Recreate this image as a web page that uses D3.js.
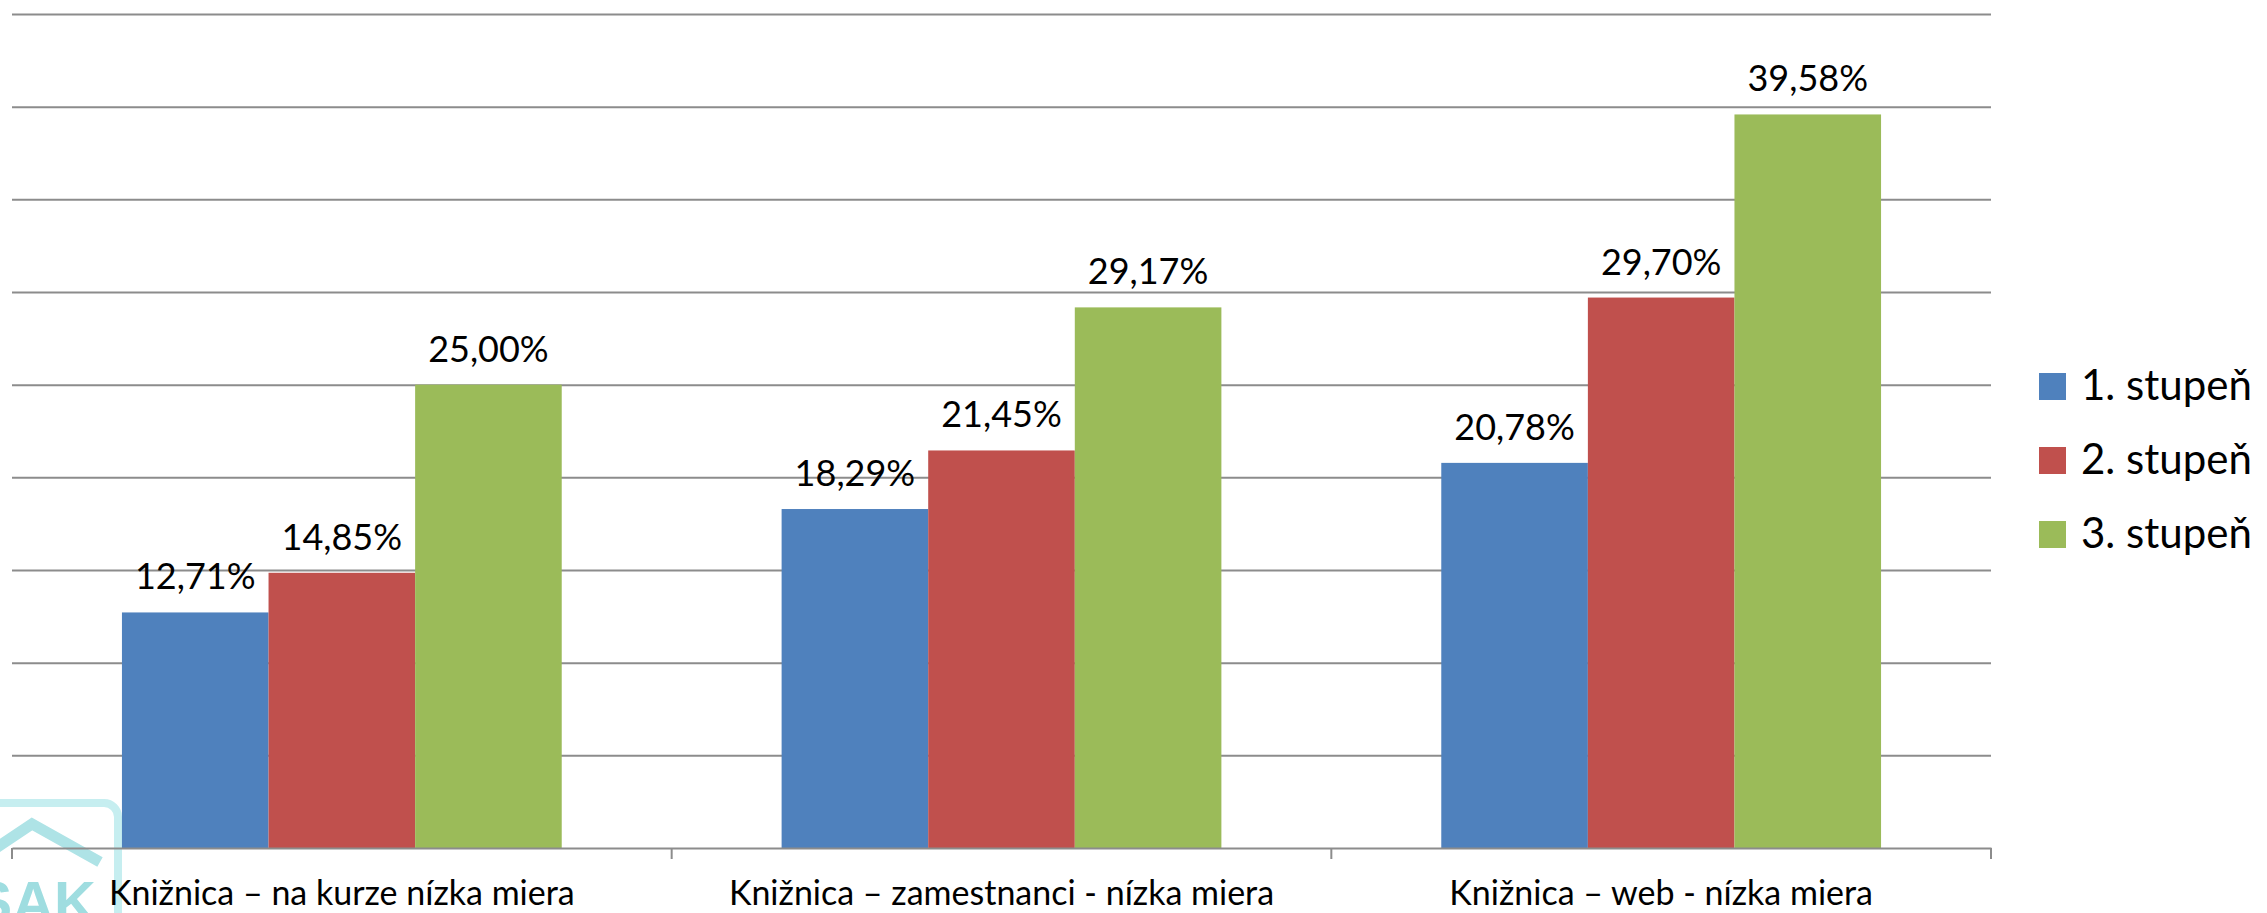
<!DOCTYPE html>
<html>
  <head>
    <meta charset="UTF-8">
    <style>
      body {
        margin: 0;
        background: #fff;
        font-family: Lato, "Open Sans", sans-serif;
      }

      .grid line {
        stroke: #8c8c8c;
        stroke-width: 2;
      }

      .grid .domain {
        opacity: 0;
      }

      .x-axis .domain,
      .x-axis .boundary {
        stroke: #8c8c8c;
        stroke-width: 2;
      }

      .x-axis .tick line {
        opacity: 0;
      }

      .x-axis text {
        font-family: Lato, sans-serif;
        font-size: 34px;
        fill: #000;
      }

      .value-label {
        font-size: 36px;
        fill: #000;
      }

      .legend text {
        font-size: 42px;
        fill: #000;
      }
    </style>
    <script src="https://d3js.org/d3.v7.min.js"></script>
  </head>

  <body>
    <svg id="chart"></svg>

    <script type="text/javascript">
      const categories = [
        'Knižnica – na kurze nízka miera',
        'Knižnica – zamestnanci - nízka miera',
        'Knižnica – web - nízka miera'
      ]
      const series = ['1. stupeň', '2. stupeň', '3. stupeň']
      const stupen1 = [12.71, 18.29, 20.78]
      const stupen2 = [14.85, 21.45, 29.70]
      const stupen3 = [25.00, 29.17, 39.58]
      const yTicks = [5, 10, 15, 20, 25, 30, 35, 40, 45]
      const colors = ['#4f81bd', '#c0504d', '#9bbb59']

      const width = 2267
      const height = 913
      const margin = { top: 14, right: 276, bottom: 65, left: 12 }
      const bodyWidth = width - margin.left - margin.right
      const bodyHeight = height - margin.top - margin.bottom

      const svg = d3.select('#chart')
        .attr('width', width)
        .attr('height', height)

      const skLocale = d3.formatLocale({ decimal: ',', thousands: ' ', grouping: [3], currency: ['', ' €'] })
      const fmt = v => skLocale.format('.2f')(v) + '%'

      const rows = categories.map((c, i) => ({
        category: c,
        values: [stupen1[i], stupen2[i], stupen3[i]].map((v, j) => ({ key: series[j], value: v }))
      }))

      const x0 = d3.scaleBand()
        .domain(categories)
        .range([0, bodyWidth])

      const x1 = d3.scaleBand()
        .domain(series)
        .range([0, x0.bandwidth()])
        .paddingOuter(0.75)

      const y = d3.scaleLinear()
        .domain([0, 45])
        .range([bodyHeight, 0])

      const color = d3.scaleOrdinal()
        .domain(series)
        .range(colors)

      // watermark logo in the lower left corner
      const logo = svg.append('g').attr('class', 'logo')
      logo.append('rect')
        .attr('x', -40).attr('y', 803)
        .attr('width', 158).attr('height', 180)
        .attr('rx', 14)
        .attr('fill', 'none')
        .attr('stroke', '#c6eef0')
        .attr('stroke-width', 8)
      logo.append('path')
        .attr('d', 'M-40,872 L32,824 L100,862')
        .attr('fill', 'none')
        .attr('stroke', '#aee3e6')
        .attr('stroke-width', 11)
      logo.append('text')
        .attr('x', 96).attr('y', 922)
        .attr('text-anchor', 'end')
        .style('font-family', '"Liberation Sans", Arial, sans-serif')
        .style('font-weight', 'bold')
        .style('font-size', '58px')
        .attr('fill', '#9fdde0')
        .text('SAK')

      const g = svg.append('g')
        .attr('transform', `translate(${margin.left}, ${margin.top})`)

      g.append('g')
        .attr('class', 'grid')
        .call(d3.axisLeft(y)
          .tickValues(yTicks)
          .tickSize(-bodyWidth)
          .tickFormat(''))

      const groups = g.selectAll('.group')
        .data(rows)
        .join('g')
        .attr('class', 'group')
        .attr('transform', d => `translate(${x0(d.category)}, 0)`)

      groups.selectAll('rect')
        .data(d => d.values)
        .join('rect')
        .attr('x', d => x1(d.key))
        .attr('y', d => y(d.value))
        .attr('width', x1.bandwidth())
        .attr('height', d => y(0) - y(d.value))
        .attr('fill', d => color(d.key))

      groups.selectAll('.value-label')
        .data(d => d.values)
        .join('text')
        .attr('class', 'value-label')
        .attr('x', d => x1(d.key) + x1.bandwidth() / 2)
        .attr('y', d => y(d.value) - 23)
        .attr('text-anchor', 'middle')
        .text(d => fmt(d.value))

      const xAxis = g.append('g')
        .attr('class', 'x-axis')
        .attr('transform', `translate(0, ${bodyHeight})`)
        .call(d3.axisBottom(x0).tickSize(0).tickSizeOuter(0).tickPadding(33))

      xAxis.selectAll('.tick text').attr('dy', '0.71em')

      const boundaries = categories.map(c => x0(c)).concat([x0.range()[1]])
      xAxis.selectAll('.boundary')
        .data(boundaries)
        .join('line')
        .attr('class', 'boundary')
        .attr('x1', d => d).attr('x2', d => d)
        .attr('y1', 0).attr('y2', 11)

      const legend = svg.append('g')
        .attr('class', 'legend')
        .attr('transform', 'translate(2039, 373)')

      const items = legend.selectAll('g')
        .data(series)
        .join('g')
        .attr('transform', (d, i) => `translate(0, ${i * 74})`)

      items.append('rect')
        .attr('width', 27)
        .attr('height', 27)
        .attr('fill', d => color(d))

      items.append('text')
        .attr('x', 42)
        .attr('y', 27)
        .text(d => d)
    </script>
  </body>
</html>
